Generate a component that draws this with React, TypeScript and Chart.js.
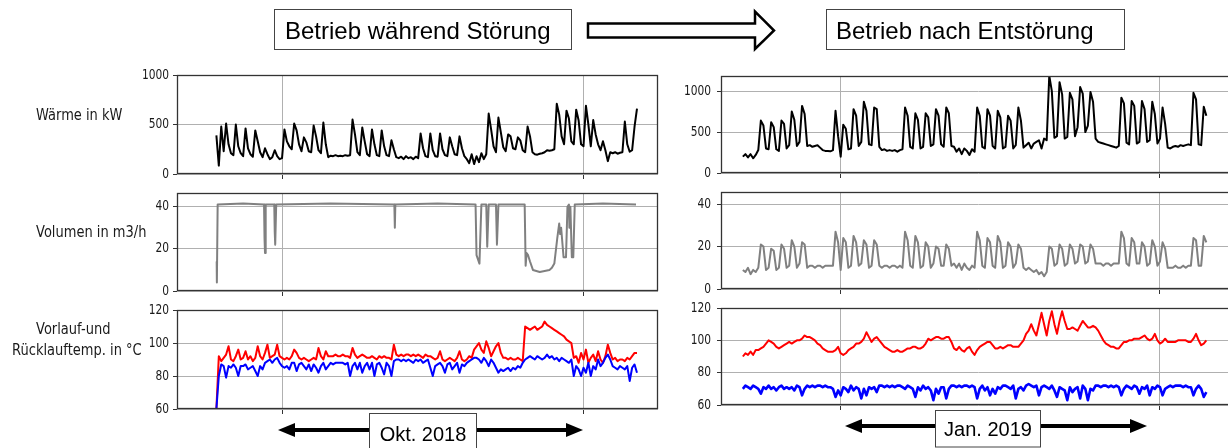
import { useEffect, useRef } from 'react';
import { Chart, registerables } from 'chart.js';

Chart.register(...registerables);

// ---------- time axis (days relative to the 1st of the month) ----------
const DAY_STEP = 0.25;
const LEFT_START_DAY = -6.75; // 24.09.2018 ~06:00
const RIGHT_START_DAY = -9.5; // 22.12.2018 ~12:00
const MONTH_TICK_DAYS = [0, 31];

// ---------- tick labels ----------
const HEAT_TICKS = [0, 500, 1000];
const VOL_TICKS = [0, 20, 40];
const TEMP_TICKS = [60, 80, 100, 120];

// ---------- Okt. 2018 (during fault) ----------
const LEFT_HEAT = [
  390, 85, 480,
  230, 510, 300, 210,
  190, 500, 280, 210,
  180, 460, 260, 200,
  175, 440, 330, 220,
  170, 260, 200, 150,
  170, 240, 180, 150,
  160, 450, 330, 280,
  250, 510, 440, 300,
  230, 370, 320, 230,
  220, 490, 380, 240,
  210, 520, 300, 170,
  185, 180, 190, 180,
  185, 180, 190, 185,
  190, 550, 400, 220,
  190, 470, 330, 200,
  180, 450, 300, 190,
  180, 440, 280, 190,
  180, 340, 250, 170,
  160, 175, 150, 180,
  160, 170, 150, 175,
  160, 410, 260, 180,
  170, 410, 240, 180,
  175, 410, 250, 190,
  180, 370, 280, 200,
  190, 380, 260, 180,
  150, 110, 200, 100,
  180, 120, 210, 150,
  200, 610, 450, 280,
  220, 570, 420, 270,
  230, 400, 380, 260,
  250, 370, 340, 240,
  220, 480, 380, 220,
  200, 195, 205, 210,
  220, 240, 235, 240,
  250, 710, 600, 380,
  300, 640, 560, 330,
  300, 650, 540, 300,
  280, 690, 500, 280,
  545, 400, 300, 240,
  330, 240, 130, 220,
  210, 220, 205, 215,
  220, 530, 300, 225,
  240, 480, 660,
];

// volume: [day, m3/h] read at the change points
const LEFT_VOL_POINTS: [number, number][] = [
  [-6.72, 14], [-6.7, 4], [-6.62, 41], [-4, 41.5], [-1.85, 41], [-1.8, 25], [-1.75, 18], [-1.68, 41],
  [-0.8, 41], [-0.75, 28], [-0.7, 22], [-0.6, 41], [5, 41.5], [11.55, 41], [11.6, 30], [11.65, 41],
  [16, 41.5], [19.9, 41], [20.0, 17], [20.3, 13], [20.5, 41], [21.0, 41], [21.1, 21], [21.25, 41],
  [22.0, 41], [22.1, 22], [22.25, 41], [24.95, 41], [25.05, 12], [25.15, 18], [25.3, 17], [25.5, 14],
  [25.8, 10], [26.5, 9], [27.0, 9.5], [27.5, 10], [27.75, 11], [28.0, 13], [28.3, 25], [28.5, 32],
  [28.6, 27], [28.7, 30], [28.95, 16], [29.2, 16], [29.35, 40], [29.5, 41], [29.55, 30], [29.65, 40],
  [29.8, 16], [29.95, 16], [30.1, 41], [33, 41.5], [36.4, 41],
];

const LEFT_SUPPLY = [
  60, 92, 89,
  91, 93, 98, 90,
  89, 92, 96, 90,
  91, 95, 90, 92,
  89, 91, 98, 92,
  90, 94, 99, 91,
  92, 93, 99, 92,
  91, 90, 91, 90,
  92, 96, 94, 91,
  90, 91, 90, 89,
  90, 91, 90, 97,
  92, 90, 95, 92,
  92, 92, 93, 92,
  92, 93, 92, 92,
  91, 97, 93, 91,
  92, 93, 92, 91,
  91, 92, 91, 90,
  92, 91, 92, 91,
  91, 90, 99, 93,
  92, 93, 92, 93,
  93, 92, 93, 92,
  93, 92, 91, 93,
  92, 92, 91, 90,
  91, 95, 90, 89,
  90, 91, 90, 89,
  91, 95, 90, 89,
  90, 92, 91, 96,
  98, 100, 96, 94,
  101, 97, 92, 95,
  98, 100, 94, 91,
  91, 90, 91, 90,
  90, 91, 90, 89,
  110, 109, 108, 109,
  110, 108, 109, 110,
  113, 111, 110, 109,
  108, 107, 106, 105,
  104, 102, 101, 100,
  91, 92, 88, 94,
  90, 96, 88, 91,
  93, 89, 95, 90,
  88, 92, 99, 94,
  90, 91, 89, 90,
  90, 89, 91, 90,
  92, 94, 94,
];

const LEFT_RETURN = [
  60, 80, 87,
  86, 79, 86, 85,
  87, 85, 80, 86,
  86, 87, 84, 85,
  86, 83, 80, 86,
  84, 88, 89, 90,
  88, 90, 91, 88,
  86, 85, 86, 84,
  88, 88, 83, 87,
  88, 86, 84, 87,
  83, 87, 85, 82,
  86, 88, 84, 86,
  88, 87, 88, 88,
  88, 88, 87, 88,
  80, 86, 88, 84,
  88, 82, 86, 88,
  84, 88, 80, 87,
  88, 85, 81, 88,
  86, 80, 89, 90,
  90, 89, 90, 89,
  90, 89, 88, 90,
  89, 90, 88, 89,
  90, 85, 80, 86,
  87, 88, 86, 82,
  87, 88, 84, 86,
  88, 82, 87, 86,
  88, 89, 90, 91,
  91, 90, 88, 91,
  89, 86, 90, 88,
  85, 82, 84, 83,
  84, 85, 83, 85,
  84, 86, 85, 88,
  90, 91, 92, 91,
  90, 92, 91, 90,
  91, 93, 91, 92,
  90, 91, 89, 91,
  90, 89, 88, 90,
  80, 86, 84, 80,
  85, 82, 88, 80,
  86, 84, 90, 86,
  88, 91, 93, 90,
  86, 85, 84, 86,
  85, 84, 86, 77,
  85, 87, 82,
];

// ---------- Jan. 2019 (after fault clearance) ----------
const RIGHT_HEAT = [
  200, 230,
  190, 230, 180, 220,
  280, 640, 580, 300,
  290, 620, 560, 290,
  270, 640, 600, 300,
  340, 750, 650, 330,
  380, 820, 720, 330,
  340, 320, 330, 340,
  310, 280, 270, 270,
  265, 280, 760, 450,
  200, 590, 540, 290,
  300, 780, 700, 330,
  380, 870, 760, 350,
  340, 800, 780, 320,
  280, 290, 270, 280,
  270, 280, 260, 280,
  290, 800, 700, 320,
  300, 730, 650, 300,
  320, 730, 680, 330,
  350, 780, 700, 350,
  320, 800, 730, 330,
  320, 260, 300, 230,
  300, 270, 220, 290,
  260, 800, 700, 320,
  300, 780, 700, 330,
  300, 760, 680, 300,
  320, 700, 640, 300,
  340, 800, 640, 310,
  340, 370, 300, 360,
  380, 400, 300, 420,
  400, 1190, 1000, 430,
  450, 1110, 960, 420,
  440, 980, 900, 450,
  560, 1050, 970, 500,
  580, 990, 870, 420,
  380, 370, 360, 350,
  340, 330, 320, 310,
  330, 920, 850, 370,
  350, 880, 820, 360,
  380, 880, 780, 380,
  400, 870, 720, 360,
  420, 800, 600, 310,
  300, 320, 330, 320,
  340, 330, 340, 350,
  340, 980, 900, 350,
  340, 810, 700,
];

const RIGHT_VOL = [
  9, 8,
  10, 7, 9, 8,
  10, 21, 20, 9,
  10, 19, 18, 9,
  10, 21, 19, 10,
  11, 23, 20, 10,
  12, 22, 21, 10,
  11, 11, 10, 11,
  11, 10, 11, 11,
  11, 11, 27, 22,
  9, 24, 22, 10,
  11, 25, 22, 11,
  12, 23, 21, 10,
  11, 23, 21, 11,
  10, 11, 11, 10,
  11, 11, 10, 11,
  10, 27, 23, 11,
  10, 25, 22, 10,
  11, 22, 20, 10,
  12, 20, 19, 11,
  11, 21, 19, 11,
  12, 10, 12, 9,
  12, 10, 9, 11,
  10, 27, 23, 11,
  10, 24, 22, 11,
  10, 25, 22, 10,
  11, 22, 20, 10,
  12, 21, 19, 10,
  9, 10, 9, 8,
  9, 7, 8, 6,
  8, 20, 19, 11,
  12, 21, 19, 11,
  12, 21, 19, 12,
  13, 21, 20, 12,
  13, 21, 19, 12,
  12, 12, 11, 12,
  12, 11, 12, 12,
  12, 27, 24, 12,
  11, 24, 22, 12,
  12, 22, 20, 11,
  12, 23, 20, 11,
  13, 22, 19, 10,
  10, 10, 11, 10,
  10, 11, 10, 11,
  11, 24, 23, 11,
  11, 25, 22,
];

const RIGHT_SUPPLY = [
  90, 92,
  91, 93, 91, 94,
  94, 95, 96, 98,
  100, 99, 98, 96,
  95, 96, 97, 98,
  99, 98, 99, 100,
  100, 101, 103, 102,
  102, 101, 100, 98,
  97, 95, 94, 93,
  93, 93, 94, 96,
  92, 91, 92, 94,
  95, 96, 98, 98,
  99, 101, 105, 102,
  99, 101, 102, 100,
  98, 96, 95, 94,
  93, 93, 94, 93,
  93, 94, 95, 95,
  96, 96, 95, 95,
  96, 98, 101, 100,
  101, 102, 102, 101,
  101, 102, 102, 99,
  95, 94, 96, 94,
  93, 95, 96, 93,
  91, 94, 96, 97,
  98, 99, 99, 97,
  95, 95, 96, 95,
  96, 97, 97, 96,
  96, 96, 98, 100,
  104, 106, 110, 106,
  103, 110, 117, 110,
  103, 112, 118, 110,
  104, 112, 118, 112,
  107, 107, 108, 107,
  106, 109, 112, 110,
  108, 108, 109, 108,
  106, 103, 100, 98,
  97, 96, 96, 95,
  95, 97, 99, 99,
  100, 100, 101, 101,
  101, 102, 103, 101,
  100, 101, 104, 100,
  98, 99, 101, 99,
  99, 99, 99, 100,
  100, 100, 100, 99,
  99, 101, 104, 100,
  97, 98, 100,
];

const RIGHT_RETURN = [
  70, 72,
  71, 70, 72, 71,
  70, 67, 71, 70,
  72, 70, 71, 69,
  71, 72, 70, 71,
  70, 71, 69, 72,
  71, 66, 70, 72,
  71, 72, 71, 72,
  72, 71, 72, 71,
  71, 70, 65, 69,
  66, 71, 70, 68,
  72, 69, 71, 70,
  64, 70, 66, 71,
  70, 71, 68, 72,
  72, 71, 72, 71,
  72, 71, 72, 72,
  71, 70, 72, 71,
  70, 65, 71, 69,
  72, 70, 71, 69,
  63, 70, 67, 71,
  71, 64, 70, 72,
  72, 71, 72, 71,
  72, 72, 71, 72,
  71, 64, 70, 72,
  69, 71, 66, 70,
  67, 71, 70, 72,
  72, 71, 70, 72,
  64, 70, 71, 69,
  72, 73, 72, 71,
  72, 66, 71, 72,
  71, 70, 72, 69,
  65, 71, 70, 69,
  63, 71, 68, 70,
  71, 64, 72, 70,
  63, 70, 69, 72,
  72, 71, 72, 72,
  71, 72, 71, 72,
  71, 66, 70, 72,
  71, 70, 72, 71,
  67, 71, 70, 72,
  66, 71, 70, 72,
  71, 66, 70, 71,
  72, 71, 72, 72,
  72, 71, 72, 71,
  71, 66, 70, 72,
  70, 65, 68,
];

// ---------- helpers ----------
type Pt = { x: number; y: number };
const seq = (start: number, values: number[]): Pt[] =>
  values.map((y, i) => ({ x: start + i * DAY_STEP, y }));
const pairs = (p: [number, number][]): Pt[] => p.map(([x, y]) => ({ x, y }));

const Y_AXIS_W = 50;
const X_AXIS_H = 10;
const PAD_T = 10;
const PAD_R = 3;

type Series = { points: Pt[]; color: string; width?: number };
type PanelCfg = {
  frame: { l: number; t: number; r: number; b: number };
  x: [number, number];
  y: [number, number];
  yTicks: number[];
  labelGap: number;
  series: Series[];
};

const LEFT_X: [number, number] = [-10.8, 38.66];
const RIGHT_X: [number, number] = [-11.62, 38.38];

const PANELS: PanelCfg[] = [
  {
    frame: { l: 177, t: 75, r: 658, b: 174 }, x: LEFT_X, y: [0, 1000], yTicks: HEAT_TICKS, labelGap: 8,
    series: [{ points: seq(LEFT_START_DAY, LEFT_HEAT), color: '#000000', width: 2 }],
  },
  {
    frame: { l: 177, t: 193, r: 658, b: 291 }, x: LEFT_X, y: [0, 46.5], yTicks: VOL_TICKS, labelGap: 8,
    series: [{ points: pairs(LEFT_VOL_POINTS), color: '#808080', width: 2 }],
  },
  {
    frame: { l: 177, t: 310, r: 658, b: 409 }, x: LEFT_X, y: [60, 120], yTicks: TEMP_TICKS, labelGap: 8,
    series: [
      { points: seq(LEFT_START_DAY, LEFT_RETURN), color: '#0000ff', width: 2 },
      { points: seq(LEFT_START_DAY, LEFT_SUPPLY), color: '#ff0000', width: 2 },
    ],
  },
  {
    frame: { l: 721, t: 76, r: 1236, b: 173 }, x: RIGHT_X, y: [0, 1185], yTicks: HEAT_TICKS, labelGap: 10,
    series: [{ points: seq(RIGHT_START_DAY, RIGHT_HEAT), color: '#000000', width: 2 }],
  },
  {
    frame: { l: 721, t: 192, r: 1236, b: 289 }, x: RIGHT_X, y: [0, 45.7], yTicks: VOL_TICKS, labelGap: 10,
    series: [{ points: seq(RIGHT_START_DAY, RIGHT_VOL), color: '#808080', width: 2 }],
  },
  {
    frame: { l: 721, t: 308, r: 1236, b: 405 }, x: RIGHT_X, y: [60, 120], yTicks: TEMP_TICKS, labelGap: 10,
    series: [
      { points: seq(RIGHT_START_DAY, RIGHT_RETURN), color: '#0000ff', width: 2.6 },
      { points: seq(RIGHT_START_DAY, RIGHT_SUPPLY), color: '#ff0000', width: 2 },
    ],
  },
];

const framePlugin = {
  id: 'frame',
  afterDraw(chart: any, _args: any, opts: any) {
    const { ctx, chartArea: a } = chart;
    ctx.save();
    ctx.strokeStyle = '#333333';
    ctx.lineWidth = 1.3;
    ctx.strokeRect(a.left + 0.5, a.top + 0.5, a.right - a.left - 1, a.bottom - a.top - 1);
    const ys = chart.scales.y;
    ctx.fillStyle = '#1a1a1a';
    ctx.font = '14px "DejaVu Sans", sans-serif';
    ctx.textAlign = 'right';
    ctx.textBaseline = 'middle';
    for (const t of ys.ticks) {
      const py = ys.getPixelForValue(t.value);
      ctx.save();
      ctx.translate(a.left - opts.gap, py);
      ctx.scale(0.76, 1);
      ctx.fillText(String(t.value), 0, 0);
      ctx.restore();
    }
    ctx.restore();
  },
};

function Panel({ cfg }: { cfg: PanelCfg }) {
  const ref = useRef<HTMLCanvasElement>(null);
  const w = Y_AXIS_W + (cfg.frame.r - cfg.frame.l) + PAD_R;
  const h = PAD_T + (cfg.frame.b - cfg.frame.t) + X_AXIS_H;
  useEffect(() => {
    if (!ref.current) return;
    const chart = new Chart(ref.current, {
      type: 'line',
      data: {
        datasets: cfg.series.map((s) => ({
          data: s.points as any,
          borderColor: s.color,
          borderWidth: s.width ?? 1.8,
          pointRadius: 0,
          tension: 0,
          fill: false,
          borderJoinStyle: 'round' as const,
        })),
      },
      options: {
        animation: false,
        responsive: false,
        devicePixelRatio: 1,
        events: [],
        layout: { padding: { top: PAD_T, right: PAD_R, left: 0, bottom: 0 } },
        plugins: {
          legend: { display: false },
          tooltip: { enabled: false },
          frame: { gap: cfg.labelGap },
        } as any,
        scales: {
          x: {
            type: 'linear',
            min: cfg.x[0],
            max: cfg.x[1],
            afterBuildTicks: (ax: any) => {
              ax.ticks = MONTH_TICK_DAYS.map((v) => ({ value: v }));
            },
            afterFit: (ax: any) => {
              ax.height = X_AXIS_H;
            },
            ticks: { display: false },
            grid: { color: '#b0b0b0', lineWidth: 1, drawTicks: true, tickLength: 5, tickColor: '#333333' },
            border: { display: false },
          },
          y: {
            type: 'linear',
            min: cfg.y[0],
            max: cfg.y[1],
            afterBuildTicks: (ax: any) => {
              ax.ticks = cfg.yTicks.map((v) => ({ value: v }));
            },
            afterFit: (ax: any) => {
              ax.width = Y_AXIS_W;
            },
            ticks: { display: false },
            grid: { color: '#b0b0b0', lineWidth: 1, drawTicks: true, tickLength: 4, tickColor: '#333333' },
            border: { display: false },
          },
        },
      },
      plugins: [framePlugin as any],
    });
    return () => chart.destroy();
  }, [cfg]);
  return (
    <canvas
      ref={ref}
      width={w}
      height={h}
      style={{ position: 'absolute', left: cfg.frame.l - Y_AXIS_W, top: cfg.frame.t - PAD_T, width: w, height: h }}
    />
  );
}

const BOX_FONT = '"Liberation Sans", Arial, sans-serif';
const LABEL_FONT = '"DejaVu Sans", sans-serif';

function Label({ x, y, text }: { x: number; y: number; text: string }) {
  return (
    <text transform={`translate(${x},${y}) scale(0.79,1)`} fontFamily={LABEL_FONT} fontSize={16.5} fill="#1a1a1a">
      {text}
    </text>
  );
}

export default function App() {
  return (
    <div style={{ position: 'absolute', left: 0, top: 0, width: 1228, height: 448, overflow: 'hidden', background: '#fff' }}>
      {PANELS.map((p, i) => (
        <Panel key={i} cfg={p} />
      ))}
      <svg width={1228} height={448} style={{ position: 'absolute', left: 0, top: 0, pointerEvents: 'none' }}>
        {/* axis titles */}
        <Label x={36} y={119.5} text="Wärme in kW" />
        <Label x={36} y={237} text="Volumen in m3/h" />
        <Label x={36} y={333.5} text="Vorlauf-und" />
        <Label x={12} y={355} text="Rücklauftemp. in °C" />

        {/* header boxes */}
        <rect x={274.5} y={9.5} width={297} height={40} fill="#fff" stroke="#444" strokeWidth={1} />
        <text x={285} y={39.3} fontFamily={BOX_FONT} fontSize={24} fill="#000">Betrieb während Störung</text>
        <polygon
          points="588,23.5 755,23.5 755,11.5 774,30.5 755,49 755,37.5 588,37.5"
          fill="#fff"
          stroke="#000"
          strokeWidth={2.5}
          strokeLinejoin="miter"
        />
        <rect x={826.5} y={9.5} width={298} height={40} fill="#fff" stroke="#444" strokeWidth={1} />
        <text x={836} y={39.3} fontFamily={BOX_FONT} fontSize={24} fill="#000">Betrieb nach Entstörung</text>

        {/* month arrows */}
        <line x1={290} y1={430} x2={571} y2={430} stroke="#000" strokeWidth={4} />
        <polygon points="278,430 295,423 295,437" fill="#000" />
        <polygon points="583,430 566,423 566,437" fill="#000" />
        <rect x={369.5} y={413.5} width={107} height={40} fill="#fff" stroke="#444" strokeWidth={1} />
        <text x={423} y={440.5} textAnchor="middle" fontFamily={BOX_FONT} fontSize={20} fill="#000">Okt. 2018</text>

        <line x1={857} y1={426} x2={1135} y2={426} stroke="#000" strokeWidth={4} />
        <polygon points="845,426 862,419 862,433" fill="#000" />
        <polygon points="1147,426 1130,419 1130,433" fill="#000" />
        <rect x={935.5} y={410.5} width={105} height={36.5} fill="#fff" stroke="#444" strokeWidth={1} />
        <text x={988} y={435.5} textAnchor="middle" fontFamily={BOX_FONT} fontSize={20} fill="#000">Jan. 2019</text>
      </svg>
    </div>
  );
}
